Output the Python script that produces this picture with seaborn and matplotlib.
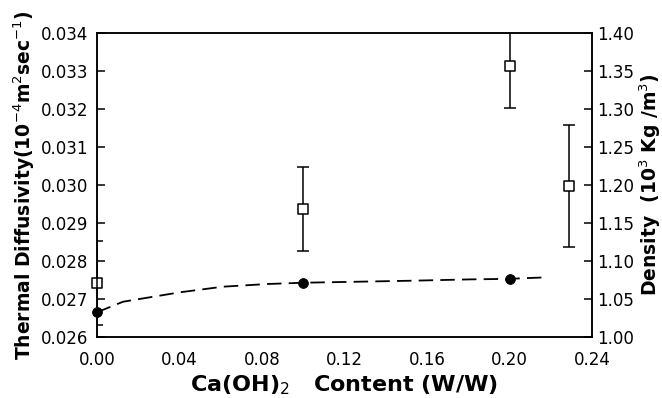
import matplotlib
matplotlib.use("Agg")
import matplotlib.pyplot as plt
import seaborn as sns
import pandas as pd

# Thermal diffusivity (left axis), open squares with error bars
diff_x = [0.000, 0.100, 0.200, 0.229]
diff_y = [0.02742, 0.02937, 0.03312, 0.02997]
diff_err = [0.0011, 0.0011, 0.0011, 0.0016]

# Density (right axis), filled circles
dens_x = [0.000, 0.100, 0.200]
dens_y = [1.033, 1.071, 1.076]

# Dashed fitted density curve
curve_x = [0.000, 0.0126, 0.0402, 0.0611, 0.0824, 0.0999, 0.1532, 0.1809, 0.1993, 0.2187]
curve_y = [1.0325, 1.0464, 1.0588, 1.0662, 1.0697, 1.0714, 1.0741, 1.0758, 1.0765, 1.0786]

xticks = [0.00, 0.04, 0.08, 0.12, 0.16, 0.20, 0.24]
xtick_labels = ["0.00", "0.04", "0.08", "0.12", "0.16", "0.20", "0.24"]
lticks = [0.026, 0.027, 0.028, 0.029, 0.030, 0.031, 0.032, 0.033, 0.034]
ltick_labels = ["0.026", "0.027", "0.028", "0.029", "0.030", "0.031", "0.032", "0.033", "0.034"]
rticks = [1.00, 1.05, 1.10, 1.15, 1.20, 1.25, 1.30, 1.35, 1.40]
rtick_labels = ["1.00", "1.05", "1.10", "1.15", "1.20", "1.25", "1.30", "1.35", "1.40"]

sns.set_theme(style="white")
plt.rcParams['font.family'] = ['DejaVu Sans']
plt.rcParams['text.color'] = 'black'
plt.rcParams['axes.labelcolor'] = 'black'

fig = plt.figure(figsize=(6.62, 3.98), dpi=100)
ax = fig.add_axes([97/662, 1-337/398, (592-97)/662, (337-33)/398])
ax2 = ax.twinx()

df_diff = pd.DataFrame({"x": diff_x, "y": diff_y})
df_dens = pd.DataFrame({"x": dens_x, "y": dens_y})
df_curve = pd.DataFrame({"x": curve_x, "y": curve_y})

# error bars (clipped at axes)
ax.errorbar(diff_x, diff_y, yerr=diff_err, fmt='none', ecolor='black',
            elinewidth=1.1, capsize=4, capthick=1.1, zorder=3)
sns.scatterplot(data=df_diff, x="x", y="y", ax=ax, marker='s', s=55,
                facecolor='white', edgecolor='black', linewidth=1.1,
                zorder=5, clip_on=False)

sns.lineplot(data=df_curve, x="x", y="y", ax=ax2, color='black',
             linewidth=1.3, clip_on=False)
for ln in ax2.get_lines():
    ln.set_dashes([8, 4])
sns.scatterplot(data=df_dens, x="x", y="y", ax=ax2, marker='o', s=50,
                color='black', edgecolor='black', zorder=5, clip_on=False)

ax.set_xlim(0, 0.24)
ax.set_ylim(0.026, 0.034)
ax2.set_ylim(1.00, 1.40)

ax.set_xticks(xticks)
ax.set_xticklabels(xtick_labels)
ax.set_yticks(lticks)
ax.set_yticklabels(ltick_labels)
ax2.set_yticks(rticks)
ax2.set_yticklabels(rtick_labels)

for a in (ax, ax2):
    for s in a.spines.values():
        s.set_linewidth(1.1)
        s.set_color('black')
ax.tick_params(axis='x', direction='in', length=6, width=1.1, labelsize=12,
               colors='black', pad=10)
ax.tick_params(axis='y', direction='in', length=6, width=1.1, labelsize=12,
               colors='black', pad=6)
ax2.tick_params(axis='y', direction='in', length=6, width=1.1, labelsize=12,
                colors='black', pad=4)

ax.set_xlabel(r"Ca(OH)$_2$   Content (W/W)", fontsize=16, fontweight='bold',
              labelpad=3, color='black')
ax.set_ylabel(r"Thermal Diffusivity(10$^{-4}$m$^2$sec$^{-1}$)", fontsize=13.5,
              fontweight='bold', labelpad=3, color='black')
ax2.set_ylabel(r"Density  (10$^3$ Kg /m$^3$)", fontsize=13.5, fontweight='bold',
               labelpad=2, color='black')
ax.grid(False)
ax2.grid(False)

fig.savefig("out.png", dpi=100)
